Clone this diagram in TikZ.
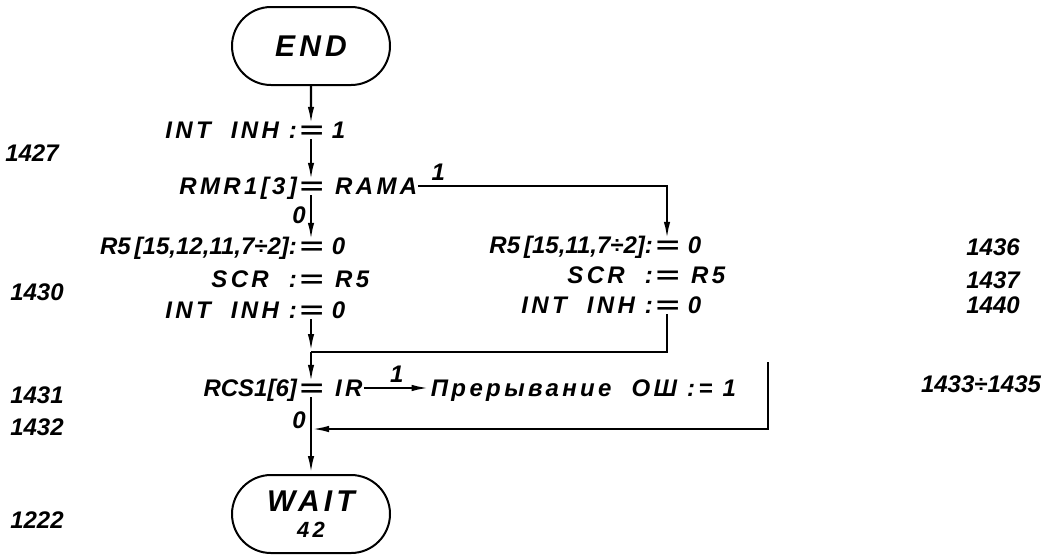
\documentclass[tikz,border=0pt]{standalone}
\usepackage{fontspec}
\setmainfont{Liberation Sans}
\newfontfamily\widefont[LetterSpace=14]{Liberation Sans}
\usetikzlibrary{shapes.misc,arrows.meta,positioning}

\begin{document}
\begin{tikzpicture}[
    x=0.5pt, y=-0.5pt,
    font=\bfseries\itshape\fontsize{12}{14}\selectfont,
    line width=1.2pt,
    >={Latex[length=9pt,width=3.2pt]}
  ]
  \tikzset{
    termbox/.style={draw, rounded rectangle, line width=1pt, minimum width=79pt, minimum height=39pt, align=center, inner sep=0pt, font=\widefont\bfseries\itshape\fontsize{15}{16}\selectfont},
    eqsign/.style={inner sep=0pt, outer sep=0.5pt},
    lhs/.style={inner sep=0pt, anchor=base east},
    rhs/.style={inner sep=0pt, anchor=base west},
    wide/.style={font=\widefont\bfseries\itshape\fontsize{12}{14}\selectfont},
    linenum/.style={font=\bfseries\itshape\fontsize{12}{14}\selectfont},
    flag/.style={inner sep=2pt},
    arrow/.style={->}
  }
  \useasboundingbox (0,0) rectangle (1054,554);

  \node (end) [termbox] at (311,46) {END};
  \node (wait) [termbox] at (311,514) {WAIT\\[-3pt]{\fontsize{11}{12}\selectfont 42}};

  % INT INH := 1
  \node (ih1) [eqsign] at (311,132) {\scalebox{1.7}[1]{=}};
  \node (ih1l) [lhs, wide] at (ih1.base west) {INT\ \ INH :};
  \node (ih1r) [rhs] at (ih1.base east) {\ 1};
  % RMR1[3] = RAMA
  \node (rmr) [eqsign] at (311,188) {\scalebox{1.7}[1]{=}};
  \node (rmrl) [lhs, wide] at (rmr.base west) {RMR1[3]};
  \node (rmrr) [rhs, wide] at (rmr.base east) {\ RAMA};

  % left branch
  \node (lr5) [eqsign] at (311,248) {\scalebox{1.7}[1]{=}};
  \node (lr5l) [lhs] at (lr5.base west) {R5\,[15,12,11,7÷2]:};
  \node (lr5r) [rhs] at (lr5.base east) {\ 0};
  \node (lscr) [eqsign] at (311,281) {\scalebox{1.7}[1]{=}};
  \node (lscrl) [lhs, wide] at (lscr.base west) {SCR \ :};
  \node (lscrr) [rhs, wide] at (lscr.base east) {\ R5};
  \node (lih) [eqsign] at (311,312) {\scalebox{1.7}[1]{=}};
  \node (lihl) [lhs, wide] at (lih.base west) {INT\ \ INH :};
  \node (lihr) [rhs] at (lih.base east) {\ 0};

  % right branch
  \node (rr5) [eqsign] at (667,247) {\scalebox{1.7}[1]{=}};
  \node (rr5l) [lhs] at (rr5.base west) {R5\,[15,11,7÷2]:};
  \node (rr5r) [rhs] at (rr5.base east) {\ 0};
  \node (rscr) [eqsign] at (667,277) {\scalebox{1.7}[1]{=}};
  \node (rscrl) [lhs, wide] at (rscr.base west) {SCR \ :};
  \node (rscrr) [rhs, wide] at (rscr.base east) {\ R5};
  \node (rih) [eqsign] at (667,307) {\scalebox{1.7}[1]{=}};
  \node (rihl) [lhs, wide] at (rih.base west) {INT\ \ INH :};
  \node (rihr) [rhs] at (rih.base east) {\ 0};

  % RCS1[6] = IR
  \node (rcs) [eqsign] at (311,390) {\scalebox{1.7}[1]{=}};
  \node (rcsl) [lhs] at (rcs.base west) {RCS1[6]};
  \node (rcsr) [rhs, wide] at (rcs.base east) {\ IR};
  \node (err) [wide, right=33pt of rcsr.base east, anchor=base west, inner sep=0pt] {Прерывание\ \ ОШ := 1};

  \coordinate (j1) at (311,352);
  \coordinate (j2) at (311,429);
  \coordinate (bartop) at (768,362);
  \coordinate (barbot) at (768,429);

  \draw[arrow] (end) -- (ih1);
  \draw[arrow] (ih1) -- (rmr);
  \draw[arrow] (rmr) -- node[flag, left, pos=0.45] (zero1) {0} (lr5);
  \draw[arrow] (rmrr) -| node[flag, above, pos=0.04] (one1) {1} (rr5);
  \draw[arrow] (lih) -- (j1);
  \draw (rih) |- (j1);
  \draw[arrow] (j1) -- (rcs);
  \draw[arrow] (rcsr.east) -- node[flag, above] (one2) {1} (rcsr.east -| err.west);
  \draw[arrow] (bartop) -- (barbot) -- (j2);
  \draw[arrow] (rcs) -- node[flag, left, pos=0.3] (zero2) {0} (wait);

  % line numbers
  \node (n1427) [linenum] at (32,153) {1427};
  \node (n1430) [linenum] at (37,292) {1430};
  \node (n1431) [linenum] at (37,395) {1431};
  \node (n1432) [linenum] at (37,427) {1432};
  \node (n1222) [linenum] at (37,520) {1222};
  \node (n1436) [linenum] at (993,247) {1436};
  \node (n1437) [linenum] at (993,280) {1437};
  \node (n1440) [linenum] at (993,305) {1440};
  \node (n1433) [linenum] at (981,384) {1433÷1435};
\end{tikzpicture}
\end{document}
